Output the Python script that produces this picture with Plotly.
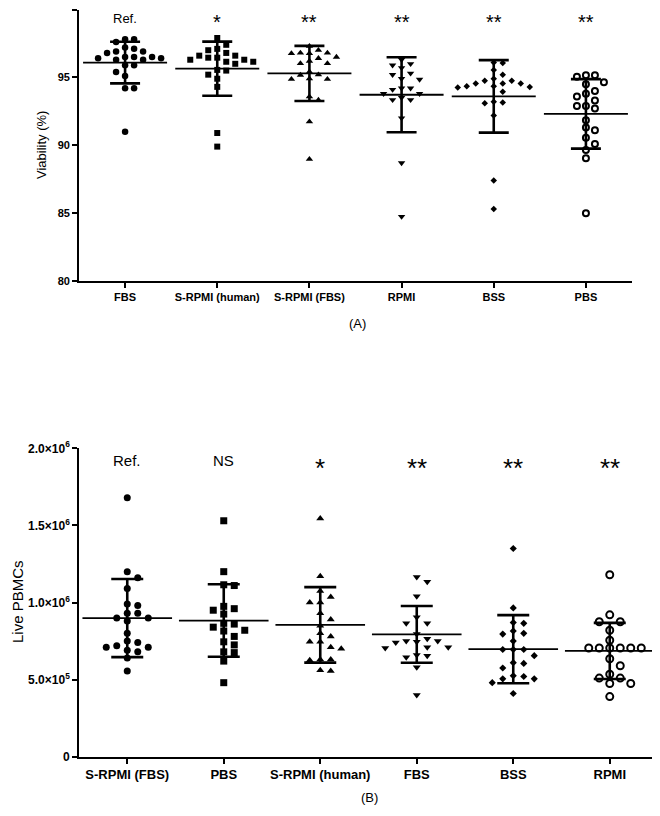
import plotly.graph_objects as go

# ---------------- data ----------------
top_categories = ["FBS", "S-RPMI (human)", "S-RPMI (FBS)", "RPMI", "BSS", "PBS"]
top_sig = ["Ref.", "*", "**", "**", "**", "**"]
top_fbs = [97.8, 97.8, 97.6, 97.2, 97.1, 96.9, 96.9, 96.8, 96.5, 96.5, 96.4, 96.4, 96.5,
           96.3, 96.3, 95.9, 95.9, 95.4, 95.1, 94.2, 94.2, 91.0]
top_srpmi_human = [97.9, 97.4, 97.1, 97.0, 96.8, 96.6, 96.6, 96.45, 96.3, 96.15, 96.0, 96.15,
                   96.3, 96.45, 95.55, 95.5, 95.2, 94.9, 94.3, 90.9, 89.9]
top_srpmi_fbs = [97.3, 97.0, 96.8, 96.8, 96.76, 96.76, 96.5, 96.4, 96.2, 96.03, 96.03, 95.41,
                 95.2, 95.17, 94.9, 94.87, 94.87, 93.58, 93.33, 91.74, 88.97]
top_rpmi = [96.3, 96.0, 95.9, 95.7, 95.3, 95.2, 94.9, 94.85, 94.2, 94.1, 94.2, 93.8, 93.8,
            93.35, 93.35, 93.5, 92.0, 88.7, 84.75]
top_bss = [96.1, 96.05, 95.55, 95.2, 94.9, 94.75, 94.75, 94.55, 94.35, 94.35, 94.55, 94.25,
           94.3, 94.55, 93.95, 93.15, 93.1, 93.2, 92.2, 87.4, 85.3]
top_pbs = [95.15, 95.05, 95.15, 94.65, 94.5, 94.0, 93.8, 93.6, 93.3, 92.9, 92.7, 92.9, 91.85,
           91.3, 91.1, 90.55, 90.1, 89.65, 89.05, 85.0]
top_mean = [96.09, 95.64, 95.29, 93.72, 93.60, 92.31]
top_sd = [1.53, 1.99, 2.03, 2.76, 2.67, 2.56]
top_yticks = [80, 85, 90, 95, 100]

bot_categories = ["S-RPMI (FBS)", "PBS", "S-RPMI (human)", "FBS", "BSS", "RPMI"]
bot_sig = ["Ref.", "NS", "*", "**", "**", "**"]
bot_srpmi_fbs = [1.68e6, 1.20e6, 1.16e6, 1.09e6, 0.99e6, 0.98e6, 0.93e6, 0.93e6, 0.90e6, 0.90e6,
                 0.88e6, 0.80e6, 0.75e6, 0.74e6, 0.72e6, 0.71e6, 0.71e6, 0.69e6, 0.68e6, 0.64e6,
                 0.555e6]
bot_pbs = [1.53e6, 1.20e6, 1.115e6, 1.11e6, 0.975e6, 0.96e6, 0.95e6, 0.925e6, 0.865e6, 0.86e6,
           0.82e6, 0.815e6, 0.84e6, 0.78e6, 0.745e6, 0.725e6, 0.68e6, 0.675e6, 0.62e6, 0.48e6]
bot_srpmi_human = [1.545e6, 1.17e6, 1.075e6, 1.035e6, 1.0e6, 1.0e6, 0.93e6, 0.89e6, 0.85e6,
                   0.80e6, 0.78e6, 0.745e6, 0.745e6, 0.70e6, 0.71e6, 0.63e6, 0.625e6, 0.63e6,
                   0.56e6, 0.555e6]
bot_fbs = [1.165e6, 1.135e6, 1.04e6, 0.905e6, 0.865e6, 0.865e6, 0.795e6, 0.765e6, 0.75e6,
           0.745e6, 0.75e6, 0.74e6, 0.71e6, 0.705e6, 0.71e6, 0.66e6, 0.655e6, 0.645e6, 0.58e6,
           0.40e6]
bot_bss = [1.35e6, 0.965e6, 0.87e6, 0.865e6, 0.815e6, 0.80e6, 0.795e6, 0.75e6, 0.695e6, 0.695e6,
           0.695e6, 0.655e6, 0.61e6, 0.605e6, 0.575e6, 0.525e6, 0.52e6, 0.505e6, 0.505e6,
           0.48e6, 0.41e6]
bot_rpmi = [1.18e6, 0.92e6, 0.875e6, 0.875e6, 0.82e6, 0.755e6, 0.705e6, 0.705e6, 0.705e6,
            0.705e6, 0.705e6, 0.705e6, 0.635e6, 0.59e6, 0.51e6, 0.51e6, 0.535e6, 0.475e6,
            0.475e6, 0.39e6]
bot_mean = [0.899e6, 0.883e6, 0.855e6, 0.793e6, 0.697e6, 0.686e6]
bot_sd = [0.253e6, 0.235e6, 0.245e6, 0.184e6, 0.221e6, 0.182e6]
bot_yticks = [0, 0.5e6, 1.0e6, 1.5e6, 2.0e6]
bot_yticktext = ["0", "5.0×10<sup>5</sup>", "1.0×10<sup>6</sup>", "1.5×10<sup>6</sup>",
                 "2.0×10<sup>6</sup>"]

top_groups = [top_fbs, top_srpmi_human, top_srpmi_fbs, top_rpmi, top_bss, top_pbs]
bot_groups = [bot_srpmi_fbs, bot_pbs, bot_srpmi_human, bot_fbs, bot_bss, bot_rpmi]

# ---------------- styling ----------------
W, H = 660, 816
OFF = 8  # page body margin of the browser (pixels) - positions below are screen pixels
FONT = "Liberation Sans, Arial, sans-serif"
symbols = ["circle", "square", "triangle-up", "triangle-down", "diamond", "circle-open"]
sizes_top = [6.5, 6, 6.5, 6.5, 5, 6]
sizes_bot = [7, 7, 7, 7, 5.5, 7]

# pixel geometry of the plot areas (screen pixels)
TOP = dict(x0=79, x1=632, y0=9.5, y1=281, rng=(80, 100))
BOT = dict(x0=79, x1=658, y0=448.3, y1=756.7, rng=(0, 2.0e6))


def px_x(x):
    return (x - OFF) / W


def px_y(y):
    return 1 - (y - OFF) / H


def swarm(vals, geo, d, step):
    """Beeswarm layout: horizontal offsets (category units) that avoid overlap."""
    pxu = (geo["y1"] - geo["y0"]) / (geo["rng"][1] - geo["rng"][0])
    cat_px = (geo["x1"] - geo["x0"]) / 6.0
    placed = []
    offs = [0.0] * len(vals)
    order = sorted(range(len(vals)), key=lambda i: -vals[i])
    cands = [0]
    for m in range(1, 12):
        cands += [m, -m]
    for i in order:
        y = vals[i] * pxu
        xx = 0
        for c in cands:
            xx = c * step
            if all((xx - px) ** 2 + (y - py) ** 2 >= d * d for px, py in placed):
                break
        placed.append((xx, y))
        offs[i] = xx / cat_px
    return offs


fig = go.Figure()


def add_panel(groups, means, sds, geo, xa, ya, sizes, d, step, meanw, capw):
    for k, vals in enumerate(groups):
        offs = swarm(vals, geo, d, step)
        sym = symbols[k]
        opn = sym.endswith("open")
        fig.add_trace(go.Scatter(
            x=[k + o for o in offs], y=vals, mode="markers", xaxis=xa, yaxis=ya,
            marker=dict(symbol=sym, size=sizes[k], color="black",
                        line=dict(width=2 if opn else 0, color="black")),
            hoverinfo="y", cliponaxis=False))
    fig.add_trace(go.Scatter(
        x=list(range(len(means))), y=means, mode="markers", xaxis=xa, yaxis=ya,
        marker=dict(symbol="line-ew", size=meanw, color="black",
                    line=dict(width=1.8, color="black")),
        error_y=dict(type="data", array=sds, symmetric=True, color="black",
                     thickness=2.6, width=capw),
        hoverinfo="y", cliponaxis=False))


add_panel(top_groups, top_mean, top_sd, TOP, "x", "y", sizes_top, 6.8, 9.0, 60, 15)
add_panel(bot_groups, bot_mean, bot_sd, BOT, "x2", "y2", sizes_bot, 7.6, 10.5, 64, 16)


def dom_x(g):
    return [px_x(g["x0"]), px_x(g["x1"])]


def dom_y(g):
    return [px_y(g["y1"]), px_y(g["y0"])]


axis_common = dict(showline=True, linecolor="black", linewidth=1.6, ticks="outside",
                   ticklen=5, tickwidth=1.6, tickcolor="black", showgrid=False,
                   zeroline=False, mirror=False, automargin=False)

fig.update_layout(
    width=W, height=H, margin=dict(l=0, r=0, t=0, b=0, pad=0, autoexpand=False),
    paper_bgcolor="white", plot_bgcolor="white", showlegend=False,
    font=dict(family=FONT, color="black"),
    xaxis=dict(domain=dom_x(TOP), anchor="y", range=[-0.5, 5.5], tickvals=list(range(6)),
               ticktext=top_categories,
               tickfont=dict(family=FONT, size=11, weight="bold"), **axis_common),
    yaxis=dict(domain=dom_y(TOP), anchor="x", range=list(TOP["rng"]), tickvals=top_yticks,
               tickfont=dict(family=FONT, size=11, weight="bold"), **axis_common),
    xaxis2=dict(domain=dom_x(BOT), anchor="y2", range=[-0.5, 5.5], tickvals=list(range(6)),
                ticktext=bot_categories,
                tickfont=dict(family=FONT, size=13, weight="bold"), **axis_common),
    yaxis2=dict(domain=dom_y(BOT), anchor="x2", range=list(BOT["rng"]), tickvals=bot_yticks,
                ticktext=bot_yticktext,
                tickfont=dict(family=FONT, size=12, weight="bold"), **axis_common),
)

ann = []
# top significance labels: kept just inside the visible page edge
for k, s in enumerate(top_sig):
    star = s.startswith("*")
    ann.append(dict(x=k, y=px_y(9), xref="x", yref="paper", text=s, showarrow=False,
                    xanchor="center", yanchor="top",
                    font=dict(family=FONT, size=(20 if star else 13))))
for k, s in enumerate(bot_sig):
    star = s.startswith("*")
    ann.append(dict(x=k, y=1.92e6, xref="x2", yref="y2", text=s, showarrow=False,
                    xanchor="center", yanchor="middle", yshift=(-7 if star else 0),
                    font=dict(family=FONT, size=(26 if star else 15))))
ann.append(dict(x=px_x(42), y=px_y(145), xref="paper", yref="paper", text="Viability (%)",
                xanchor="center", yanchor="middle",
                textangle=-90, showarrow=False, font=dict(family=FONT, size=13)))
ann.append(dict(x=px_x(17), y=px_y(602), xref="paper", yref="paper", text="Live PBMCs",
                xanchor="center", yanchor="middle",
                textangle=-90, showarrow=False, font=dict(family=FONT, size=15)))
ann.append(dict(x=px_x(357), y=px_y(324), xref="paper", yref="paper", text="(A)",
                xanchor="center", yanchor="middle",
                showarrow=False, font=dict(family=FONT, size=13)))
ann.append(dict(x=px_x(369), y=px_y(797), xref="paper", yref="paper", text="(B)",
                xanchor="center", yanchor="middle",
                showarrow=False, font=dict(family=FONT, size=13)))
fig.update_layout(annotations=ann)

fig.write_html("out.html")
